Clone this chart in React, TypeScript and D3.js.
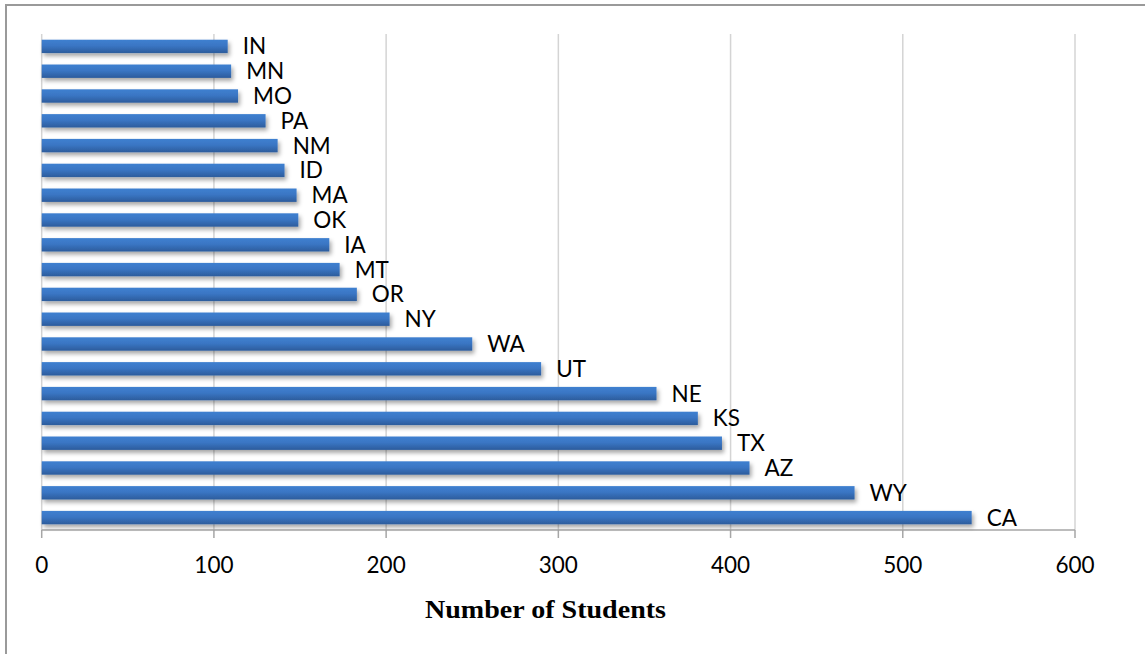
import React from "react";
import * as d3 from "d3";

const states = ["IN","MN","MO","PA","NM","ID","MA","OK","IA","MT","OR","NY","WA","UT","NE","KS","TX","AZ","WY","CA"];
const students = [108,110,114,130,137,141,148,149,167,173,183,202,250,290,357,381,395,411,472,540];
const xTicks = [0,100,200,300,400,500,600];
const xTitle = "Number of Students";

const W = 1145, H = 654;
const left = 41.7, right = 1075, top = 34, bottom = 530;

export default function App() {
  const x = d3.scaleLinear().domain([0, 600]).range([left, right]);
  const y = d3.scaleBand<string>().domain(states).range([top, bottom]).paddingInner(0.46).paddingOuter(0.23);
  const bh = y.bandwidth();
  return (
    <svg width={W} height={H} style={{ position: "absolute", left: 0, top: 0, background: "#fff" }}>
      <defs>
        <linearGradient id="barGrad" x1="0" y1="0" x2="0" y2="1">
          <stop offset="0%" stopColor="#3f80d0" />
          <stop offset="45%" stopColor="#3a76c4" />
          <stop offset="100%" stopColor="#2c5c9c" />
        </linearGradient>
        <filter id="shadow" x="-5%" y="-50%" width="110%" height="250%">
          <feDropShadow dx="2" dy="3" stdDeviation="2" floodColor="#000" floodOpacity="0.35" />
        </filter>
      </defs>
      <rect x={0} y={0} width={W} height={H} fill="#fff" />
      <path d={`M6,${H} L6,5 L${W},5`} fill="none" stroke="#9a9a9a" strokeWidth={2} />
      {xTicks.map(t => (
        <line key={"g" + t} x1={x(t)} x2={x(t)} y1={top} y2={bottom} stroke="#d4d4d4" strokeWidth={1.5} />
      ))}
      <line x1={left} x2={right} y1={bottom} y2={bottom} stroke="#a6a6a6" strokeWidth={1.5} />
      {xTicks.map(t => (
        <line key={"t" + t} x1={x(t)} x2={x(t)} y1={bottom} y2={bottom + 8} stroke="#a6a6a6" strokeWidth={1.5} />
      ))}
      {states.map((s, i) => (
        <g key={s}>
          <rect x={x(0)} y={y(s)!} width={x(students[i]) - x(0)} height={bh} fill="url(#barGrad)" filter="url(#shadow)" />
          <text x={x(students[i]) + 15} y={y(s)! + bh / 2 + 8} fontFamily="Lato, 'Open Sans', sans-serif" fontSize={22.5} fill="#000">{s}</text>
        </g>
      ))}
      {xTicks.map(t => (
        <text key={"l" + t} x={x(t)} y={573} textAnchor="middle" fontFamily="Lato, 'Open Sans', sans-serif" fontSize={22.5} fill="#000">{t}</text>
      ))}
      <text x={545.5} y={618} textAnchor="middle" fontFamily="'Liberation Serif', 'DejaVu Serif', serif" fontWeight="bold" fontSize={26} textLength={241} lengthAdjust="spacingAndGlyphs" fill="#000">{xTitle}</text>
    </svg>
  );
}
